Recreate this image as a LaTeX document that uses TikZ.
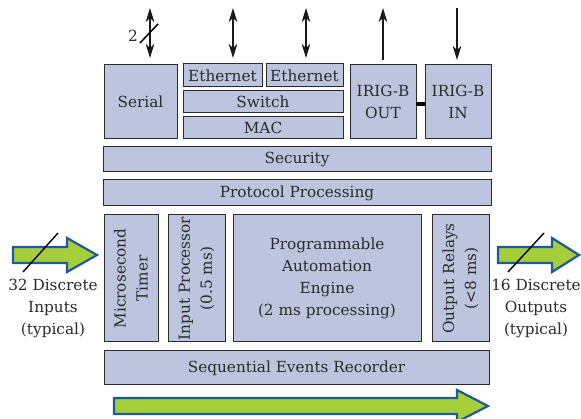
\documentclass[tikz,border=0pt]{standalone}
\usepackage{fontspec}
\setmainfont{DejaVu Serif}
\usetikzlibrary{arrows.meta}
\definecolor{boxfill}{HTML}{BDC5DE}
\definecolor{boxline}{HTML}{2B2B2B}
\definecolor{txt}{HTML}{2A2A2A}
\definecolor{agreen}{HTML}{A6CE3A}
\definecolor{ablue}{HTML}{1D5A9A}
\tikzset{
  blk/.style={draw=boxline, line width=1pt, fill=boxfill},
  lbl/.style={text=txt, font=\fontsize{15.3}{19}\selectfont, align=center, inner sep=0pt},
  rlbl/.style={lbl, rotate=90},
  bigarrow/.style={draw=ablue, line width=2.2pt, fill=agreen, line join=miter},
  sig/.style={draw=black!90, line width=2pt},
  tip/.style={-{Stealth[length=14pt,width=8.5pt,inset=4pt]}},
  dtip/.style={{Stealth[length=14pt,width=8.5pt,inset=4pt]}-{Stealth[length=14pt,width=8.5pt,inset=4pt]}},
}
\newcommand{\blockbox}[6]{% name, x1,y1,x2,y2, text
  \draw[blk] (#2,#3) rectangle (#4,#5);
  \node[lbl] (#1) at ({(#2+#4)/2},{(#3+#5)/2}) {#6};
}
\newcommand{\rblockbox}[6]{%
  \draw[blk] (#2,#3) rectangle (#4,#5);
  \node[rlbl] (#1) at ({(#2+#4)/2},{(#3+#5)/2}) {#6};
}
\begin{document}
\begin{tikzpicture}[x=1pt,y=-1pt]
\useasboundingbox (0,0) rectangle (581,419);
% top row
\blockbox{serial}{104}{65}{177}{139}{Serial}
\blockbox{eth1}{183}{64}{262}{87}{Ethernet}
\blockbox{eth2}{266}{64}{343}{87}{Ethernet}
\blockbox{switch}{183}{91}{343}{113}{Switch}
\blockbox{mac}{183}{117}{343}{139}{MAC}
\blockbox{irigout}{350}{65}{416}{139}{IRIG-B\\[3pt]OUT}
\blockbox{irigin}{425}{65}{491}{139}{IRIG-B\\[3pt]IN}
\draw[line width=4pt] (416,104) -- (425,104);
% layers
\blockbox{security}{103}{147}{491}{172}{Security}
\blockbox{protocol}{103}{180}{491}{206}{Protocol Processing}
\rblockbox{timer}{104}{215}{158}{342}{Microsecond\\[3pt]Timer}
\rblockbox{inproc}{168}{215}{225}{342}{Input Processor\\[3pt](0.5 ms)}
\blockbox{engine}{233}{215}{421}{342}{Programmable\\[3pt]Automation\\[3pt]Engine\\[3pt](2 ms processing)}
\rblockbox{outrel}{432}{215}{489}{342}{Output Relays\\[3pt](<8 ms)}
\blockbox{ser}{104}{351}{489}{385}{Sequential Events Recorder}
% top signal arrows
\coordinate (s1) at (150,8); \coordinate (s2) at (150,58);
\draw[sig,dtip] (s1) -- (s2);
\draw[line width=1.5pt] (140,43) -- (158,24);
\node[lbl] (two) at (133,36) {2};
\coordinate (e1a) at (233,8); \coordinate (e1b) at (233,58);
\draw[sig,dtip] (e1a) -- (e1b);
\coordinate (e2a) at (306,8); \coordinate (e2b) at (306,58);
\draw[sig,dtip] (e2a) -- (e2b);
\coordinate (oa) at (383,60); \coordinate (ob) at (383,8);
\draw[sig,tip] (oa) -- (ob);
\coordinate (ia) at (457,8); \coordinate (ib) at (457,60);
\draw[sig,tip] (ia) -- (ib);
% left input arrow
\draw[bigarrow] (13,247) -- (67,247) -- (67,238) -- (97,255) -- (67,272) -- (67,263) -- (13,263) -- cycle;
\draw[line width=1.4pt] (23,272) -- (58,233);
\node[lbl] (inlbl) at (53,309) {32 Discrete\\[3pt]Inputs\\[3pt](typical)};
% right output arrow
\draw[bigarrow] (498,247) -- (552,247) -- (552,238) -- (579,255) -- (552,272) -- (552,263) -- (498,263) -- cycle;
\draw[line width=1.4pt] (508,272) -- (544,233);
\node[lbl] (outlbl) at (536,309) {16 Discrete\\[3pt]Outputs\\[3pt](typical)};
% bottom arrow
\draw[bigarrow] (114,398) -- (457,398) -- (457,390) -- (488,406) -- (457,422) -- (457,414) -- (114,414) -- cycle;
\end{tikzpicture}
\end{document}
